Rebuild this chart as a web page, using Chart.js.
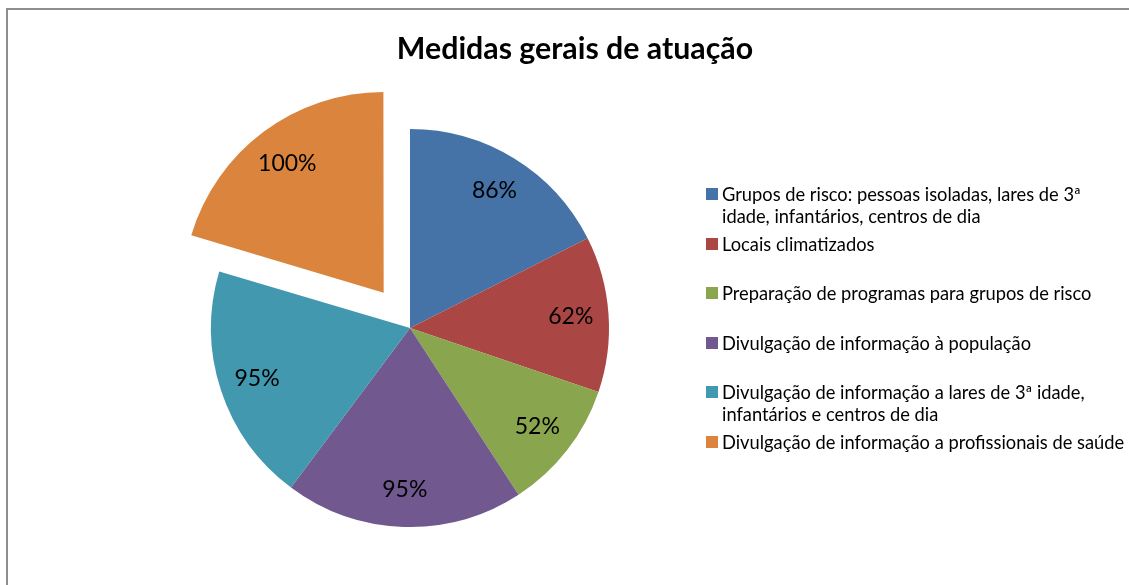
<!DOCTYPE html>
<html>
<head>
<meta charset="utf-8">
<script src="https://cdn.jsdelivr.net/npm/chart.js@4"></script>
<style>
  html, body { margin: 0; padding: 0; background: #fff; }
  #wrap { position: relative; width: 1129px; height: 585px; overflow: hidden; font-family: Lato, "Open Sans", sans-serif; }
  #frame { position: absolute; left: 6px; top: 8px; width: 1200px; height: 700px; border-left: 2px solid #8e8e8e; border-top: 2px solid #8e8e8e; }
  #title { position: absolute; left: 0; width: 1150px; top: 29px; text-align: center; font-weight: bold; font-size: 30.3px; color: #000; }
  canvas { position: absolute; left: 0; top: 0; }
  #legend { position: absolute; left: 706px; top: 0; }
  .item { position: absolute; left: 0; white-space: nowrap; font-size: 18.3px; line-height: 22px; color: #000; }
  .box { position: absolute; left: 0; top: 5px; width: 12px; height: 12px; }
  .txt { position: absolute; left: 16px; top: 0; }
</style>
</head>
<body>
<div id="wrap">
  <div id="frame"></div>
  <canvas id="pie" width="1129" height="585"></canvas>
  <div id="title">Medidas gerais de atuação</div>
  <div id="legend"></div>
</div>
<script>
const labels = [
  ['Grupos de risco: pessoas isoladas, lares de 3ª', 'idade, infantários, centros de dia'],
  ['Locais climatizados'],
  ['Preparação de programas para grupos de risco'],
  ['Divulgação de informação à população'],
  ['Divulgação de informação a lares de 3ª idade,', 'infantários e centros de dia'],
  ['Divulgação de informação a profissionais de saúde']
];
const values = [86, 62, 52, 95, 95, 100];
const colors = ['#4572A7', '#AA4643', '#89A54E', '#71588F', '#4198AF', '#DB843D'];
const explode = [0, 0, 0, 0, 0, 176];

// legend in html, one entry per label
const legendDiv = document.getElementById('legend');
labels.forEach((lines, i) => {
  const item = document.createElement('div');
  item.className = 'item';
  item.style.top = (183 + i * 49.5) + 'px';
  item.innerHTML = `<span class="box" style="background:${colors[i]}"></span><span class="txt">${lines.join('<br>')}</span>`;
  legendDiv.appendChild(item);
});

const pctLabels = {
  id: 'pctLabels',
  afterDatasetsDraw(chart) {
    const ctx = chart.ctx;
    const meta = chart.getDatasetMeta(0);
    ctx.save();
    ctx.font = '23px Lato, "Open Sans", sans-serif';
    ctx.fillStyle = '#000';
    ctx.textAlign = 'center';
    ctx.textBaseline = 'middle';
    meta.data.forEach((arc, i) => {
      const p = arc.getProps(['x', 'y', 'startAngle', 'endAngle', 'outerRadius']);
      const mid = (p.startAngle + p.endAngle) / 2;
      const d = p.outerRadius * 0.81 + (arc.options.offset || 0) / 4;
      ctx.fillText(values[i] + '%', p.x + Math.cos(mid) * d, p.y + Math.sin(mid) * d);
    });
    ctx.restore();
  }
};

new Chart(document.getElementById('pie'), {
  type: 'pie',
  data: {
    labels: labels.map(l => l.join(' ')),
    datasets: [{
      data: values,
      backgroundColor: colors,
      borderWidth: 0,
      offset: explode,
      hoverOffset: 0,
      radius: 199
    }]
  },
  options: {
    responsive: false,
    animation: false,
    events: [],
    layout: { padding: { left: 167, right: 476, top: 85, bottom: 14 } },
    plugins: {
      legend: { display: false },
      title: { display: false },
      tooltip: { enabled: false }
    }
  },
  plugins: [pctLabels]
});
</script>
</body>
</html>
